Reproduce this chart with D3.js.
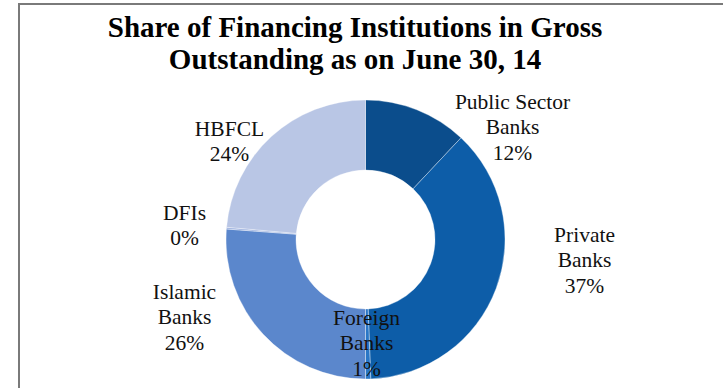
<!DOCTYPE html>
<html>
<head>
<meta charset="utf-8">
<script src="https://cdn.jsdelivr.net/npm/d3@7"></script>
<style>
  html, body { margin: 0; padding: 0; background: #fff; }
  svg { display: block; }
</style>
</head>
<body>
<script>
// Institutions, clockwise from 12 o'clock
const institutions = ["Public Sector Banks", "Private Banks", "Foreign Banks", "Islamic Banks", "DFIs", "HBFCL"];
// Share of gross outstanding (%)
const shares = [12.0, 37.4, 0.6, 26.2, 0.2, 23.6];
// Label text split into lines
const labelLines = [["Public Sector", "Banks"], ["Private", "Banks"], ["Foreign", "Banks"], ["Islamic", "Banks"], ["DFIs"], ["HBFCL"]];
const titleLines = ["Share of Financing Institutions in Gross", "Outstanding as on June 30, 14"];

// Slice colours
const colors = ["#0b4d8c", "#0d5da8", "#2a77c6", "#5b87cc", "#9cb0de", "#b9c6e5"];
// Label anchors relative to the donut centre (x centre, first baseline)
const labelOffsets = [[147, -131], [219, 2], [1, 85], [-181, 59], [-181, -20], [-136, -104]];

const W = 723, H = 388;
const cx = 365.5, cy = 239.5, outerR = 139.5, innerR = 69.5;

const svg = d3.select("body").append("svg").attr("width", W).attr("height", H);

// Chart frame
svg.append("path")
  .attr("d", `M19,${H + 5}V4H${W + 5}`)
  .attr("fill", "none")
  .attr("stroke", "#7a7a7a")
  .attr("stroke-width", 2);

// Title
svg.append("text")
  .attr("text-anchor", "middle")
  .attr("font-family", "'Liberation Serif', serif")
  .attr("font-weight", "bold")
  .attr("font-size", 29)
  .attr("fill", "#000")
  .selectAll("tspan").data(titleLines).join("tspan")
  .attr("x", 355)
  .attr("y", (d, i) => 37 + i * 32)
  .text(d => d);

const data = institutions.map((name, i) => ({ name, value: shares[i], i }));

const pie = d3.pie().value(d => d.value).sort(null);
const arc = d3.arc().innerRadius(innerR).outerRadius(outerR);

const g = svg.append("g").attr("transform", `translate(${cx},${cy})`);

g.selectAll("path.slice").data(pie(data)).join("path")
  .attr("class", "slice")
  .attr("d", arc)
  .attr("fill", d => colors[d.data.i])
  .attr("stroke", "#ffffff")
  .attr("stroke-width", 0.6)
  .attr("stroke-opacity", 0.6);

// Data labels: name lines followed by rounded percentage
const labels = g.selectAll("text.lbl").data(data).join("text")
  .attr("class", "lbl")
  .attr("text-anchor", "middle")
  .attr("font-family", "'Liberation Serif', serif")
  .attr("font-size", 21.5)
  .attr("fill", "#111");

labels.each(function (d) {
  const [ox, oy] = labelOffsets[d.i];
  const lines = labelLines[d.i].concat([Math.round(d.value) + "%"]);
  d3.select(this).selectAll("tspan").data(lines).join("tspan")
    .attr("x", ox)
    .attr("y", (t, k) => oy + k * 25.5)
    .text(t => t);
});
</script>
</body>
</html>
